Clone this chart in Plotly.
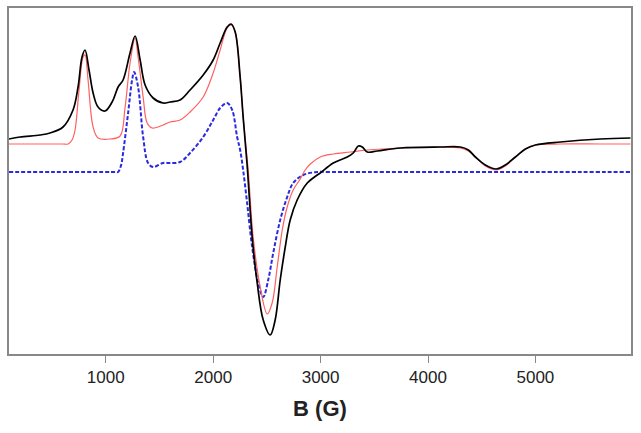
import plotly.graph_objects as go

# Magnetic field (G) and intensity (arb. units)
b_exp = [99, 202, 388, 481, 602, 695, 742, 779, 807, 844, 882, 928, 993, 1059, 1115,
         1161, 1226, 1273, 1320, 1366, 1441, 1534, 1599, 1692, 1785, 1907, 2000, 2065,
         2130, 2167, 2205, 2251, 2279, 2316, 2363, 2410, 2466, 2531, 2577, 2624, 2671,
         2717, 2782, 2876, 2969, 2997, 3118, 3248, 3304, 3351, 3388, 3435, 3528, 3742,
         4115, 4301, 4376, 4441, 4534, 4636, 4720, 4814, 4907, 5000, 5233, 5605, 5885]
y_exp = [33, 35, 37, 39, 45, 62, 85, 115, 122, 102, 79, 65, 61, 70, 85,
         92, 119, 136, 112, 87, 74, 69, 70, 72, 82, 97, 112, 129,
         145, 148, 140, 95, 55, 7, -65, -111, -148, -163, -148, -108, -75,
         -48, -28, -11, -3, -1, 9, 15, 19, 26, 25, 20, 21, 24,
         25, 25, 22, 15, 7, 3, 7, 15, 23, 27, 30, 33, 34]

b_sim = [99, 400, 600, 649, 686, 714, 751, 789, 807, 835, 882, 928, 1040, 1133, 1180,
         1226, 1273, 1301, 1348, 1385, 1431, 1534, 1599, 1692, 1785, 1907, 2000, 2065,
         2130, 2167, 2205, 2251, 2279, 2326, 2372, 2438, 2503, 2549, 2596, 2643, 2689,
         2745, 2810, 2857, 2904, 2997, 3118, 3276, 3435, 3742, 4115, 4301, 4376, 4441,
         4534, 4636, 4720, 4814, 4907, 5000, 5233, 5600, 5885]
y_sim = [28, 28, 28, 28, 32, 42, 82, 115, 117, 92, 45, 34, 33, 36, 65,
         109, 134, 115, 75, 49, 44, 47, 50, 52, 60, 75, 99, 122,
         144, 147, 140, 95, 55, 2, -65, -115, -142, -131, -95, -58, -35,
         -18, -7, 2, 8, 15, 18, 20, 22, 24, 25, 24, 21, 15,
         6, 2, 6, 15, 23, 27, 28, 28, 28]

b_comp = [99, 500, 900, 1050, 1100, 1115, 1143, 1161, 1208, 1245, 1264, 1301, 1348,
          1394, 1441, 1534, 1599, 1692, 1785, 1907, 2000, 2065, 2130, 2177, 2223, 2251,
          2279, 2316, 2363, 2419, 2466, 2512, 2559, 2624, 2689, 2745, 2838, 2969, 3100,
          3300, 4000, 5000, 5885]
y_comp = [0, 0, 0, 0, 0, 0, 7, 19, 59, 92, 100, 85, 35,
          9, 5, 9, 9, 10, 19, 35, 52, 64, 69, 62, 35, 22,
          2, -31, -75, -111, -125, -108, -81, -48, -25, -11, -3, 0, 0,
          0, 0, 0, 0]

x_ticks = [1000, 2000, 3000, 4000, 5000]

fig = go.Figure()
fig.add_trace(go.Scatter(x=b_comp, y=y_comp, mode="lines", line_shape="spline",
                         line=dict(color="#2a2ae0", width=2, dash="4px,2px")))
fig.add_trace(go.Scatter(x=b_sim, y=y_sim, mode="lines", line_shape="spline",
                         line=dict(color="#ff6060", width=1.2)))
fig.add_trace(go.Scatter(x=b_exp, y=y_exp, mode="lines", line_shape="spline",
                         line=dict(color="black", width=1.7)))

fig.update_layout(
    width=641, height=433,
    margin=dict(l=9, r=10, t=8, b=79, autoexpand=False),
    paper_bgcolor="white", plot_bgcolor="white",
    showlegend=False,
    font=dict(family="Liberation Sans, Arial, sans-serif", color="#222"),
)
fig.update_xaxes(range=[99, 5890], tickvals=x_ticks, ticks="outside", ticklen=7,
                 tickcolor="#888", tickwidth=1.2, showline=True, linecolor="#888",
                 linewidth=1.5, mirror=True, showgrid=False, zeroline=False,
                 automargin=False, tickfont=dict(size=17),
                 title=dict(text="<b>B (G)</b>", font=dict(size=22), standoff=14))
fig.update_yaxes(range=[-182, 164], showticklabels=False, ticks="", showline=True,
                 linecolor="#888", linewidth=1.5, mirror=True, showgrid=False,
                 zeroline=False, automargin=False)

fig.write_html("out.html", config={"displayModeBar": False},
               post_script="document.body.style.margin='0';document.body.style.overflow='hidden';")
